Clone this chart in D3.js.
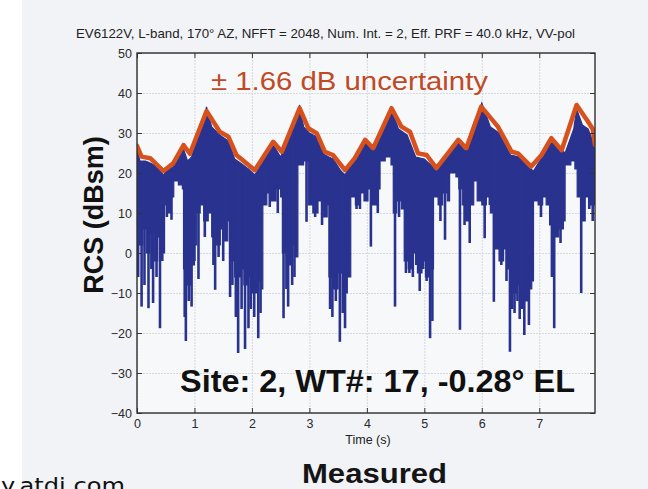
<!DOCTYPE html>
<html>
<head>
<meta charset="utf-8">
<script src="https://cdn.jsdelivr.net/npm/d3@7"></script>
<style>
  html, body { margin: 0; padding: 0; background: #f2f3f7; }
  svg { display: block; font-family: 'Liberation Sans', Arial, sans-serif; }
</style>
</head>
<body>
<svg id="chart" width="648" height="489"></svg>
<script>
(function () {
  'use strict';

  // ── Data ────────────────────────────────────────────────────────────────────

  var TITLE = 'EV6122V, L-band, 170\u00B0 AZ, NFFT = 2048, Num. Int. = 2, Eff. PRF = 40.0 kHz, VV-pol';
  var X_TICKS = [0, 1, 2, 3, 4, 5, 6, 7];
  var Y_TICKS = [-40, -30, -20, -10, 0, 10, 20, 30, 40, 50];

  // orange envelope (± 1.66 dB uncertainty bound)
  var envelopeT = [0, 0.08, 0.23, 0.46, 0.63, 0.81, 0.92, 1.21, 1.44, 1.59, 1.73, 1.94, 2.05, 2.37, 2.52,
    2.83, 2.98, 3.13, 3.27, 3.41, 3.62, 3.79, 3.97, 4.11, 4.43, 4.60, 4.75, 4.89, 5.04, 5.21, 5.41,
    5.59, 5.73, 5.99, 6.28, 6.52, 6.63, 6.86, 7.04, 7.21, 7.39, 7.65, 7.85, 7.93, 7.97];
  var envelopeV = [26.8, 24.1, 23.7, 20.5, 22.4, 27.0, 24.8, 35.5, 30.3, 29.1, 24.5, 22.0, 20.7, 27.8, 25.3,
    36.2, 31.2, 29.9, 25.3, 24.5, 20.7, 23.7, 28.3, 26.2, 36.2, 31.6, 30.3, 24.9, 24.5, 21.2, 24.9,
    28.3, 26.2, 36.6, 31.6, 25.3, 24.9, 21.6, 24.5, 28.7, 25.7, 37.0, 32.8, 31.0, 27.0];

  // measured RCS: upper edge of the dense trace
  var rcsTopT = [0, 0.05, 0.15, 0.3, 0.46, 0.55, 0.63, 0.72, 0.81, 0.88, 0.95, 1.05, 1.15, 1.21, 1.3, 1.44,
    1.59, 1.7, 1.8, 1.94, 2.05, 2.2, 2.3, 2.37, 2.5, 2.65, 2.78, 2.83, 2.9, 3.0, 3.13, 3.27, 3.41, 3.55,
    3.62, 3.75, 3.9, 3.97, 4.1, 4.25, 4.38, 4.43, 4.55, 4.7, 4.85, 5.0, 5.15, 5.21, 5.35, 5.5, 5.59,
    5.7, 5.85, 5.95, 6.0, 6.15, 6.3, 6.5, 6.65, 6.8, 6.9, 7.05, 7.2, 7.3, 7.45, 7.6, 7.65, 7.75, 7.85, 7.97];
  var rcsTopV = [26, 23, 23, 22, 19.5, 21, 21.5, 24, 26, 23, 24, 29, 33, 36.5, 31.5, 29.5,
    28, 23.5, 22.5, 21, 19.5, 23, 26, 27, 24, 29, 34, 37, 31.5, 30, 29, 24.5, 23.5, 20.5,
    19.5, 23, 26.5, 27.5, 25.5, 30, 34.5, 35.8, 31, 29.5, 24, 23.5, 21.5, 20.5, 23.5, 26.5, 28,
    25.5, 32, 35.5, 37.5, 31.5, 30, 24.5, 24, 21.5, 20.5, 24, 28, 27, 25, 31, 36, 32, 31, 26.5];

  // measured RCS: lower edge of the solid band
  var rcsFloorT = [0, 0.04, 0.1, 0.16, 0.22, 0.3, 0.36, 0.44, 0.48, 0.55, 0.6, 0.64, 0.72, 0.79, 0.81, 0.88,
    0.94, 1.0, 1.04, 1.1, 1.16, 1.24, 1.3, 1.38, 1.45, 1.52, 1.58, 1.64, 1.7, 1.8, 1.86, 1.92, 2.0, 2.08,
    2.15, 2.19, 2.26, 2.34, 2.42, 2.5, 2.53, 2.6, 2.68, 2.76, 2.8, 2.9, 2.98, 3.06, 3.15, 3.24, 3.31,
    3.34, 3.42, 3.5, 3.58, 3.66, 3.72, 3.8, 3.88, 3.95, 4.02, 4.1, 4.18, 4.23, 4.32, 4.42, 4.46, 4.52,
    4.6, 4.65, 4.72, 4.8, 4.88, 4.96, 5.02, 5.1, 5.16, 5.24, 5.32, 5.4, 5.44, 5.55, 5.6, 5.66, 5.72,
    5.8, 5.86, 5.92, 6.0, 6.08, 6.15, 6.22, 6.3, 6.38, 6.45, 6.5, 6.6, 6.7, 6.8, 6.87, 6.9, 6.98, 7.06,
    7.12, 7.18, 7.26, 7.34, 7.42, 7.45, 7.55, 7.62, 7.66, 7.74, 7.8, 7.88, 7.97];
  var rcsFloorV = [8, 2, 6, 0, 5, -2, 4, 0, 12, 10, 14, 18, 17, 16, -4, -8,
    -3, 2, 10, 12, 8, 10, 4, 2, 6, 3, 8, -2, -6, -4, -8, -6, -10, -7,
    -9, 12, 15, 13, 16, 14, 0, -3, 2, -1, 22, 23, 12, 10, 13, 9, 12,
    -6, -9, -5, -10, -6, 14, 12, 15, 13, 16, 12, 16, 23, 24, 22, 10, 13,
    11, -2, -4, 0, -5, -2, -6, -4, 14, 12, 15, 13, 20, 19, 16, 12, 8,
    12, 18, 13, 12, 14, 10, 1, -2, 1, -4, -10, -8, -12, -9, -7, 13, 12, 14,
    12, 7, 4, 6, 8, 22, 23, 21, 14, 8, 14, 12, 14];

  // measured RCS: deep nulls below the band
  var nullT = [0.02, 0.08, 0.13, 0.2, 0.25, 0.28, 0.34, 0.4, 0.44, 0.52, 0.6, 0.83, 0.85, 0.9, 0.95, 1.0,
    1.07, 1.18, 1.33, 1.36, 1.42, 1.5, 1.62, 1.66, 1.72, 1.76, 1.82, 1.88, 1.94, 1.98, 2.04, 2.11, 2.15,
    2.31, 2.45, 2.55, 2.6, 2.63, 2.7, 2.74, 2.95, 3.1, 3.22, 3.36, 3.4, 3.46, 3.53, 3.58, 3.62, 3.82,
    3.88, 4.07, 4.19, 4.49, 4.56, 4.68, 4.74, 4.8, 4.86, 4.92, 4.98, 5.04, 5.1, 5.14, 5.28, 5.36, 5.62,
    5.7, 5.79, 6.05, 6.14, 6.21, 6.34, 6.43, 6.49, 6.53, 6.57, 6.62, 6.66, 6.7, 6.74, 6.78, 6.82, 7.03,
    7.22, 7.26, 7.37, 7.73, 7.87, 7.93];
  var nullV = [-6, -13.4, -8, -13.8, -4, -12.5, -6, -18.8, -2, 9, 8.3, -16, -22, -12, -13.4, -2,
    -6.5, 4, -3, -9.2, -1, -2, -11, -8, -16, -25, -14, -24, -18.8, -14, -16, -21.3, -15,
    11.5, 10, -16.3, -9, -13.4, -8, -6, 7.8, 9, 7, -14, -16, -12, -22.2, -15, -18.8, 11,
    11, 1.6, 10, -13.4, 9, -5, -5, -6, -3, -9.5, -4, -7, -21.3, -17, 8, 3.3, -19.2,
    7, 2.5, 3.7, 12, -12.2, -3, -7, -24.7, -14, -15, -12, -16.5, -14, -20.5, -12, -18, 9,
    -6, -18.8, 2.5, -10, 11, 8];

  // ── Layout ──────────────────────────────────────────────────────────────────

  var M = { left: 137, top: 53, right: 53, bottom: 76 };
  var W = 648 - M.left - M.right;
  var H = 489 - M.top - M.bottom;

  var BLUE = '#29338f';
  var ORANGE = '#d6511c';
  var FONT = "'Liberation Sans', Arial, sans-serif";

  var svg = d3.select('#chart');

  // scanned page: white margin on the far left
  svg.append('rect').attr('x', 0).attr('y', 0).attr('width', 22).attr('height', 489).attr('fill', '#ffffff');

  var x = d3.scaleLinear().domain([0, 7.97]).range([0, W]);
  var y = d3.scaleLinear().domain([-40, 50]).range([H, 0]);

  var g = svg.append('g').attr('transform', 'translate(' + M.left + ',' + M.top + ')');

  g.append('rect').attr('width', W).attr('height', H).attr('fill', '#f7f8fa');

  g.append('clipPath').attr('id', 'plot-clip')
    .append('rect').attr('width', W).attr('height', H);

  // ── Grid ────────────────────────────────────────────────────────────────────

  var grid = g.append('g').attr('class', 'grid');
  grid.append('g')
    .call(d3.axisLeft(y).tickValues(Y_TICKS).tickSize(-W).tickFormat(''))
    .call(function (s) { s.select('.domain').remove(); });
  grid.append('g').attr('transform', 'translate(0,' + H + ')')
    .call(d3.axisBottom(x).tickValues(X_TICKS).tickSize(-H).tickFormat(''))
    .call(function (s) { s.select('.domain').remove(); });
  grid.selectAll('line').attr('stroke', '#cdd0d8').attr('stroke-width', 0.8).attr('stroke-dasharray', '2,1');

  // ── Series ──────────────────────────────────────────────────────────────────

  var plot = g.append('g').attr('clip-path', 'url(#plot-clip)');

  // top edge is a polyline; the floor holds its level until the next sample
  var topAt = d3.scaleLinear().domain(rcsTopT).range(rcsTopV).clamp(true);
  var floorAt = d3.scaleThreshold().domain(rcsFloorT.slice(1)).range(rcsFloorV);
  var bandT = Array.from(new Set(
    rcsTopT.concat(rcsFloorT, rcsFloorT.slice(1).map(function (t) { return t - 0.0005; }))
  )).sort(d3.ascending);

  plot.append('path')
    .datum(bandT)
    .attr('fill', BLUE)
    .attr('stroke', BLUE)
    .attr('stroke-width', 1.2)
    .attr('d', d3.area()
      .x(function (t) { return x(t); })
      .y0(function (t) { return y(Math.min(floorAt(t), topAt(t) - 2)); })
      .y1(function (t) { return y(topAt(t)); }));

  plot.append('g').selectAll('line')
    .data(nullT.map(function (t, i) { return [t, nullV[i]]; }))
    .join('line')
    .attr('x1', function (d) { return x(d[0]); })
    .attr('x2', function (d) { return x(d[0]); })
    .attr('y1', function (d) { return y(d[1]); })
    .attr('y2', function (d) { return y(topAt(d[0]) - 1); })
    .attr('stroke', BLUE)
    .attr('stroke-width', 2.6);

  plot.append('path')
    .datum(envelopeT.map(function (t, i) { return [t, envelopeV[i]]; }))
    .attr('fill', 'none')
    .attr('stroke', ORANGE)
    .attr('stroke-width', 4.5)
    .attr('stroke-linejoin', 'round')
    .attr('stroke-linecap', 'round')
    .attr('d', d3.line().x(function (d) { return x(d[0]); }).y(function (d) { return y(d[1]); }));

  // ── Axes (MATLAB-style box, ticks pointing in) ──────────────────────────────

  function styleAxis(s) {
    s.select('.domain').remove();
    s.selectAll('line').attr('stroke', '#333');
    s.selectAll('text').attr('fill', '#2a2a2a').style('font-family', FONT).style('font-size', '12.5px');
  }

  g.append('g')
    .call(d3.axisLeft(y).tickValues(Y_TICKS).tickSize(-5).tickPadding(5).tickFormat(d3.format('d')))
    .call(styleAxis);
  g.append('g').attr('transform', 'translate(' + W + ',0)')
    .call(d3.axisRight(y).tickValues(Y_TICKS).tickSize(-5).tickFormat(''))
    .call(styleAxis);
  g.append('g').attr('transform', 'translate(0,' + H + ')')
    .call(d3.axisBottom(x).tickValues(X_TICKS).tickSize(-5).tickPadding(6).tickFormat(d3.format('d')))
    .call(styleAxis);
  g.append('g')
    .call(d3.axisTop(x).tickValues(X_TICKS).tickSize(-5).tickFormat(''))
    .call(styleAxis);

  g.append('rect').attr('width', W).attr('height', H)
    .attr('fill', 'none').attr('stroke', '#2f2f2f').attr('stroke-width', 1.4);

  // ── Text ────────────────────────────────────────────────────────────────────

  svg.append('text')
    .attr('x', 76).attr('y', 38)
    .attr('textLength', 499).attr('lengthAdjust', 'spacingAndGlyphs')
    .style('font-family', FONT).style('font-size', '13px').attr('fill', '#222')
    .text(TITLE);

  svg.append('text')
    .attr('x', 211).attr('y', 90)
    .attr('textLength', 277).attr('lengthAdjust', 'spacingAndGlyphs')
    .style('font-family', FONT).style('font-size', '25px').attr('fill', '#bf4a26')
    .text('\u00B1 1.66 dB uncertainty');

  svg.append('text')
    .attr('transform', 'translate(103,215) rotate(-90)')
    .attr('text-anchor', 'middle')
    .style('font-family', FONT).style('font-size', '27px').style('font-weight', 'bold').attr('fill', '#111')
    .text('RCS (dBsm)');

  svg.append('text')
    .attr('x', 180).attr('y', 392)
    .attr('textLength', 395).attr('lengthAdjust', 'spacingAndGlyphs')
    .style('font-family', FONT).style('font-size', '32px').style('font-weight', 'bold').attr('fill', '#111')
    .text('Site: 2, WT#: 17, -0.28\u00B0 EL');

  svg.append('text')
    .attr('x', 368).attr('y', 444).attr('text-anchor', 'middle')
    .style('font-family', FONT).style('font-size', '12.5px').attr('fill', '#222')
    .text('Time (s)');

  svg.append('text')
    .attr('x', 302).attr('y', 483)
    .attr('textLength', 145).attr('lengthAdjust', 'spacingAndGlyphs')
    .style('font-family', FONT).style('font-size', '27px').style('font-weight', 'bold').attr('fill', '#151515')
    .text('Measured');

  // site address at the page foot, cut by the bottom edge of the scan
  svg.append('text')
    .attr('x', 125).attr('y', 493).attr('text-anchor', 'end')
    .attr('textLength', 124).attr('lengthAdjust', 'spacingAndGlyphs')
    .style('font-family', "'DejaVu Sans', sans-serif").style('font-size', '22px').attr('fill', '#111')
    .text('y.atdi.com');
})();
</script>
</body>
</html>
